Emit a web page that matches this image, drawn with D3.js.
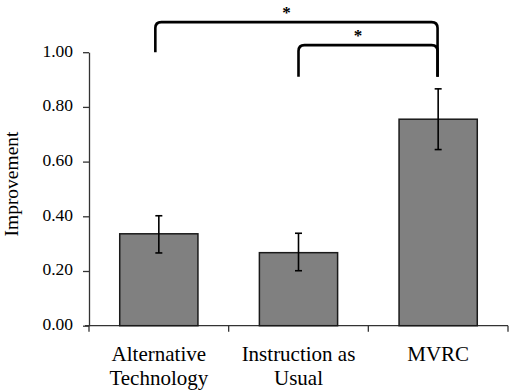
<!DOCTYPE html>
<html>
<head>
<meta charset="utf-8">
<script src="https://cdn.jsdelivr.net/npm/d3@7"></script>
<style>
  html, body { margin: 0; padding: 0; background: #fff; }
  svg { display: block; }
</style>
</head>
<body>
<svg id="chart" width="510" height="390"></svg>
<script>
// ---- data ----
const categories = ["Alternative Technology", "Instruction as Usual", "MVRC"];
const categoryLines = [["Alternative", "Technology"], ["Instruction as", "Usual"], ["MVRC"]];
const means = [0.336, 0.267, 0.755];
const errLow = [0.266, 0.201, 0.644];
const errHigh = [0.402, 0.338, 0.866];
const yTicks = [0, 0.2, 0.4, 0.6, 0.8, 1.0];
// significance brackets
const bracketFrom = [0, 1];
const bracketTo = [2, 2];
const bracketTop = [1.11, 1.026];
const bracketLeftEnd = [1.0, 0.91];
const bracketRightEnd = [0.91, 0.91];
const bracketLabel = ["*", "*"];

// ---- pick an installed serif font ----
const ctx = document.createElement("canvas").getContext("2d");
function w(fam) { ctx.font = "40px " + fam; return ctx.measureText("Improvement 0.80 Wg").width; }
const baseMono = w("monospace"), baseSans = w("sans-serif");
const cands = ["Liberation Serif", "Tinos", "Times New Roman", "DejaVu Serif", "Noto Serif", "FreeSerif", "Nimbus Roman", "serif"];
let FONT = "serif", found = false;
for (const c of cands) {
  const a = w(`'${c}', monospace`), b = w(`'${c}', sans-serif`);
  if (a !== baseMono && b !== baseSans && a === b) { FONT = `'${c}'`; found = true; break; }
}

// ---- layout ----
const svg = d3.select("#chart");
const mLeft = 89, mRight = 508, mTop = 52.2, mBottom = 325.7;

const x = d3.scaleBand().domain(categories).range([mLeft, mRight]).paddingInner(0).paddingOuter(0);
const y = d3.scaleLinear().domain([0, 1]).range([mBottom, mTop]);
const barPad = 0.44;
const barW = x.bandwidth() * (1 - barPad);
const cx = c => x(c) + x.bandwidth() / 2;

// y axis
const yAxis = d3.axisLeft(y).tickValues(yTicks).tickFormat(d3.format(".2f"))
  .tickSize(6).tickSizeOuter(0).tickPadding(10);
const gy = svg.append("g").attr("transform", `translate(${mLeft},0)`).call(yAxis);
gy.selectAll("path, line").attr("stroke", "#333").attr("stroke-width", 1.3);
gy.selectAll("text").style("font-family", FONT).attr("font-size", 17.5).attr("dy", "0.22em").attr("fill", "#000");

// x axis: line + boundary ticks
const xEdges = categories.map(c => x(c)).concat([x(categories[categories.length - 1]) + x.bandwidth()]);
const gx = svg.append("g");
gx.append("line").attr("x1", mLeft - 4).attr("x2", mRight).attr("y1", mBottom).attr("y2", mBottom)
  .attr("stroke", "#333").attr("stroke-width", 1.3);
gx.selectAll("line.tk").data(xEdges).join("line").attr("class", "tk")
  .attr("x1", d => d).attr("x2", d => d).attr("y1", mBottom).attr("y2", mBottom + 6)
  .attr("stroke", "#333").attr("stroke-width", 1.3);

// category labels
categories.forEach((c, i) => {
  const t = svg.append("text").attr("x", cx(c)).attr("y", 361)
    .attr("text-anchor", "middle").attr("font-size", 21).style("font-family", FONT);
  categoryLines[i].forEach((ln, j) => {
    t.append("tspan").attr("x", cx(c)).attr("dy", j === 0 ? 0 : 24).text(ln);
  });
});

// y title
svg.append("text").attr("transform", `translate(18,184) rotate(-90)`)
  .attr("text-anchor", "middle").attr("font-size", 19.5).style("font-family", FONT).text("Improvement");

// bars
svg.selectAll("rect.bar").data(categories).join("rect").attr("class", "bar")
  .attr("x", c => cx(c) - barW / 2).attr("width", barW)
  .attr("y", (c, i) => y(means[i])).attr("height", (c, i) => y(0) - y(means[i]))
  .attr("fill", "#808080").attr("stroke", "#1a1a1a").attr("stroke-width", 1.5);

// error bars
const eb = svg.append("g").attr("stroke", "#000").attr("stroke-width", 1.6);
categories.forEach((c, i) => {
  eb.append("line").attr("x1", cx(c)).attr("x2", cx(c)).attr("y1", y(errLow[i])).attr("y2", y(errHigh[i]));
  [errLow[i], errHigh[i]].forEach(v => {
    eb.append("line").attr("x1", cx(c) - 3.5).attr("x2", cx(c) + 3.5).attr("y1", y(v)).attr("y2", y(v));
  });
});

// brackets
const rr = 6;
bracketFrom.forEach((f, i) => {
  const x1 = cx(categories[f]) - (f === 0 ? 3.5 : 0), x2 = cx(categories[bracketTo[i]]) - 0.6;
  const yt = y(bracketTop[i]), yl = y(bracketLeftEnd[i]), yr = y(bracketRightEnd[i]);
  const p = d3.path();
  p.moveTo(x1, yl);
  p.lineTo(x1, yt + rr);
  p.quadraticCurveTo(x1, yt, x1 + rr, yt);
  p.lineTo(x2 - rr, yt);
  p.quadraticCurveTo(x2, yt, x2, yt + rr);
  p.lineTo(x2, yr);
  svg.append("path").attr("d", p.toString()).attr("fill", "none")
    .attr("stroke", "#000").attr("stroke-width", 2.6);
  svg.append("text").attr("x", (x1 + x2) / 2 - 10).attr("y", yt - 4)
    .attr("text-anchor", "middle").attr("font-size", 17).attr("font-weight", "bold")
    .style("font-family", FONT).text(bracketLabel[i]);
});
</script>
</body>
</html>
